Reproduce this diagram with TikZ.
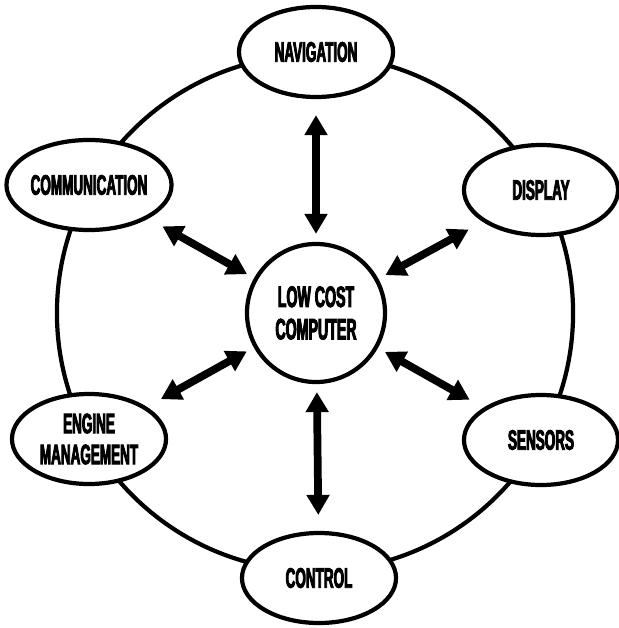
\documentclass[tikz,border=0pt]{standalone}
\usepackage{fontspec}
\usepackage{tikz}
\usetikzlibrary{shapes.geometric,arrows.meta}

% narrow heavy lettering for the boxes
\newfontfamily\labelfont{Liberation Sans}[FakeStretch=0.48, FakeBold=3]

\begin{document}
\begin{tikzpicture}[x=0.025cm, y=-0.025cm, line width=3pt, text=black, draw=black,
    unit/.style={ellipse, draw, fill=white, minimum width=3.85cm, minimum height=2.25cm,
      inner sep=0pt, align=center, font=\labelfont\bfseries\fontsize{20}{22}\selectfont},
    hub/.style={circle, draw, fill=white, minimum size=3.45cm, inner sep=0pt,
      align=center, font=\labelfont\bfseries\fontsize{21}{23}\selectfont},
    link/.style={line width=5.5pt, {Triangle[length=0.5cm,width=0.55cm]}-{Triangle[length=0.5cm,width=0.55cm]},
      shorten <=0.2cm, shorten >=0.4cm}]

        \useasboundingbox (0,0) rectangle (618,628);

        % Outer ring joining the units
        \coordinate (Ring) at (315,313);
        \draw (Ring) circle[radius=6.45cm];

        % The units round the ring
        \node[unit] (nav) at (316,52) {NAVIGATION};
        \node[unit] (comm) at (89,185) {COMMUNICATION};
        \node[unit] (disp) at (541,190) {DISPLAY};
        \node[unit] (eng) at (89,439) {ENGINE\\MANAGEMENT};
        \node[unit] (sens) at (541,440) {SENSORS};
        \node[unit] (ctrl) at (319,578) {CONTROL};

        % The computer in the middle
        \node[hub] (hub) at (316,313) {LOW COST\\COMPUTER};

        % Two-way links from the computer to each unit
        \draw[link] (hub) -- (nav);
        \draw[link] (hub) -- (comm);
        \draw[link] (hub) -- (disp);
        \draw[link] (hub) -- (eng);
        \draw[link] (hub) -- (sens);
        \draw[link] (hub) -- (ctrl);

      \end{tikzpicture}
\end{document}
